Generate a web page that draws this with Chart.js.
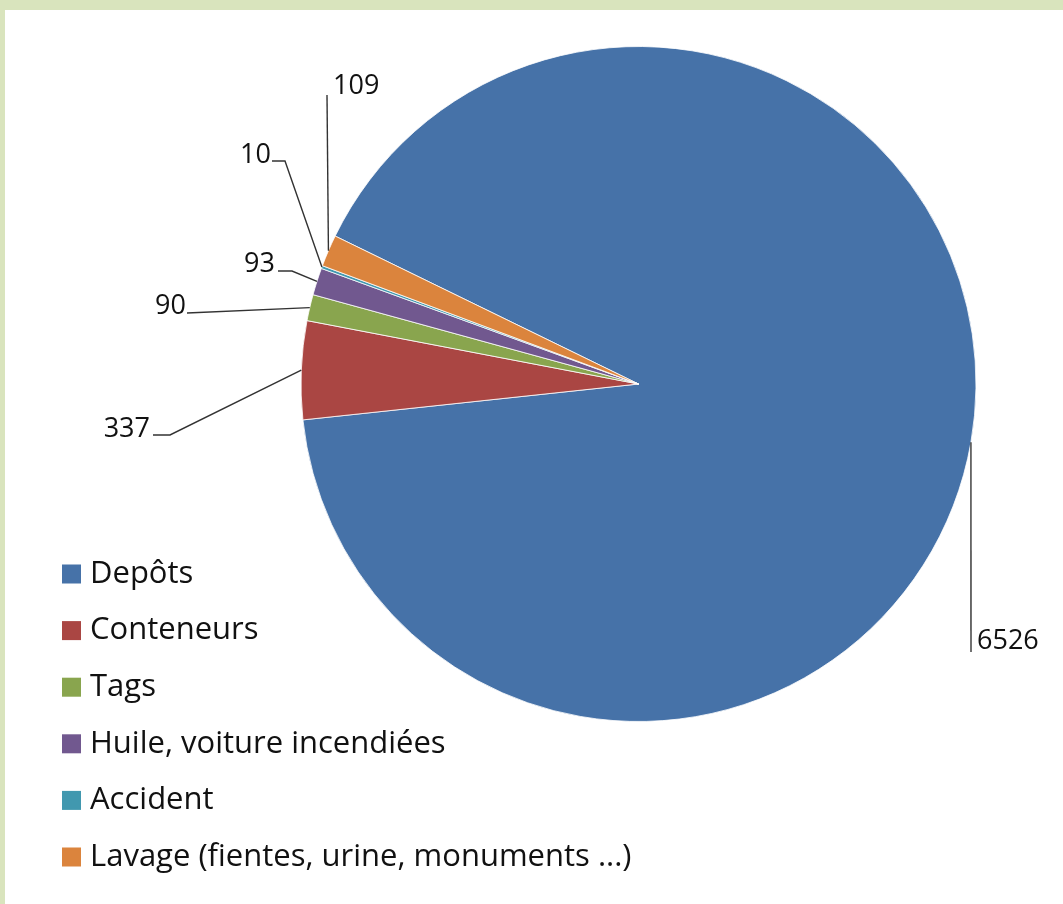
<!DOCTYPE html>
<html>
<head>
<meta charset="utf-8">
<script src="https://cdn.jsdelivr.net/npm/chart.js@4"></script>
<style>
  html, body { margin: 0; padding: 0; background: #d9e4bd; }
  #wrap { position: absolute; left: 0; top: 0; width: 1063px; height: 904px; }
</style>
</head>
<body>
<div id="wrap"><canvas id="c" width="1063" height="904"></canvas></div>
<script>
// ---- data ----
const categories = [
  "Depôts",
  "Conteneurs",
  "Tags",
  "Huile, voiture incendiées",
  "Accident",
  "Lavage (fientes, urine, monuments ...)"
];
const values = [6526, 337, 90, 93, 10, 109];
const colors = ["#4672a8", "#aa4643", "#89a54e", "#71588f", "#4198af", "#db843d"];

// ---- label layout (leader-line elbows and text anchors) ----
const labelLayout = [
  { pts: [[971, 652]], tx: 977, ty: 641, align: "left" },
  { pts: [[170, 435], [153, 435]], tx: 150, ty: 429, align: "right" },
  { pts: [[187, 313]], tx: 186, ty: 306, align: "right" },
  { pts: [[292, 271], [278, 271]], tx: 275, ty: 264, align: "right" },
  { pts: [[285, 161], [272, 161]], tx: 271, ty: 155, align: "right" },
  { pts: [[327, 95]], tx: 333, ty: 86, align: "left" }
];

const LABEL_FONT = "27px 'Open Sans'";
const LEGEND_FONT = "31px 'Open Sans'";

const bgPlugin = {
  id: "bg",
  beforeDraw(chart) {
    const ctx = chart.ctx;
    ctx.save();
    ctx.fillStyle = "#d9e4bd";
    ctx.fillRect(0, 0, chart.width, chart.height);
    ctx.fillStyle = "#ffffff";
    ctx.fillRect(5, 10, chart.width - 5, chart.height - 10);
    ctx.restore();
  }
};

const labelPlugin = {
  id: "leaders",
  afterDatasetsDraw(chart) {
    const ctx = chart.ctx;
    const arcs = chart.getDatasetMeta(0).data;
    ctx.save();
    ctx.strokeStyle = "#333333";
    ctx.lineWidth = 1.4;
    ctx.fillStyle = "#111111";
    ctx.font = LABEL_FONT;
    ctx.textBaseline = "middle";
    arcs.forEach((arc, i) => {
      const lay = labelLayout[i];
      const p = arc.getProps(["x", "y", "startAngle", "endAngle", "outerRadius"], true);
      const mid = (p.startAngle + p.endAngle) / 2;
      const ex = p.x + Math.cos(mid) * p.outerRadius;
      const ey = p.y + Math.sin(mid) * p.outerRadius;
      ctx.beginPath();
      ctx.moveTo(ex, ey);
      lay.pts.forEach(pt => ctx.lineTo(pt[0], pt[1]));
      ctx.stroke();
      ctx.textAlign = lay.align;
      ctx.fillText(String(values[i]), lay.tx, lay.ty);
    });
    // legend
    ctx.textAlign = "left";
    ctx.font = LEGEND_FONT;
    categories.forEach((cat, i) => {
      const cy = 574 + i * 56.6;
      ctx.fillStyle = colors[i];
      ctx.fillRect(62, cy - 9.5, 19, 19);
      ctx.fillStyle = "#111111";
      ctx.fillText(cat, 90, cy);
    });
    ctx.restore();
  }
};

new Chart(document.getElementById("c"), {
  type: "pie",
  data: {
    labels: categories,
    datasets: [{
      data: values,
      backgroundColor: colors,
      borderColor: "#ffffff",
      borderWidth: 0.8
    }]
  },
  options: {
    responsive: false,
    animation: false,
    rotation: -64,
    radius: 337.5,
    layout: { padding: { left: 300.5, right: 86.5, top: 46, bottom: 182 } },
    plugins: {
      legend: { display: false },
      tooltip: { enabled: false },
      title: { display: false }
    }
  },
  plugins: [bgPlugin, labelPlugin]
});
</script>
</body>
</html>
